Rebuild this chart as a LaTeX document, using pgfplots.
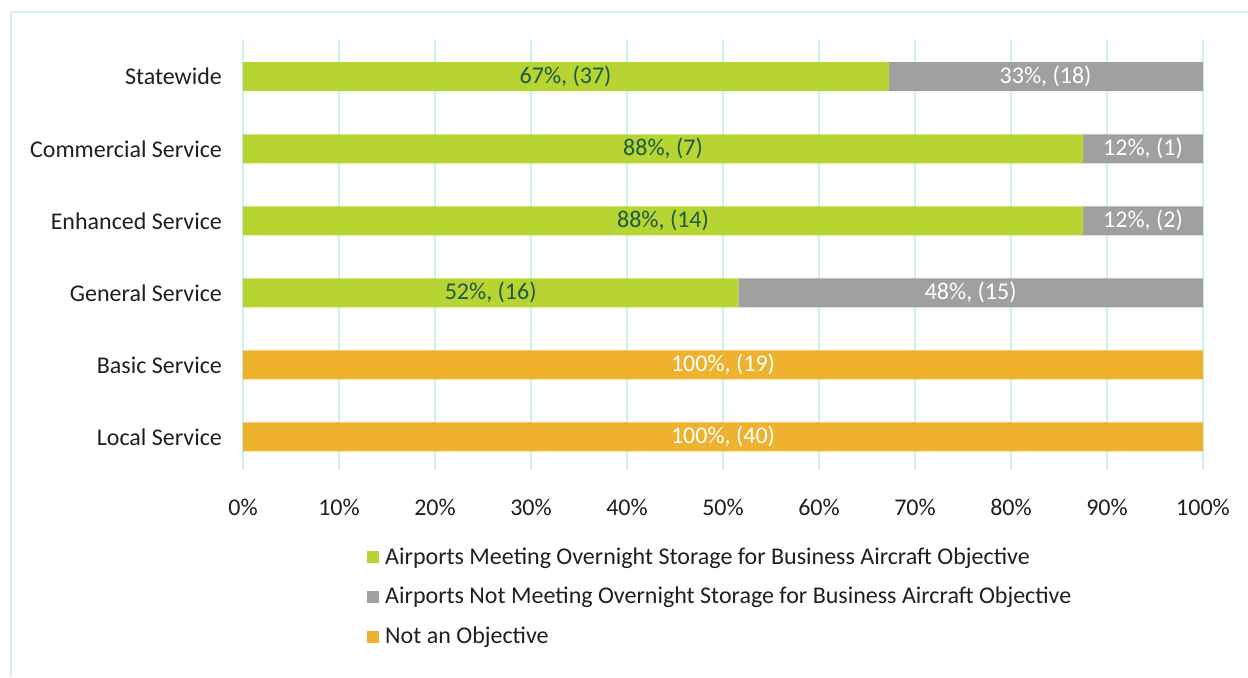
\documentclass[border=0pt]{standalone}
\usepackage{fontspec}
\setmainfont{Carlito}
\usepackage{pgfplots}
\pgfplotsset{compat=1.18}
\usepackage{pgfplotstable}

\definecolor{meet}{HTML}{B8D432}
\definecolor{notmeet}{HTML}{A0A0A0}
\definecolor{notobj}{HTML}{EEB22E}
\definecolor{gridc}{HTML}{CCF2EC}
\definecolor{framec}{HTML}{CFF0EC}
\definecolor{darklab}{HTML}{1D5A45}

% 0 = Local ... 5 = Statewide
\pgfplotstableread{
y meet notmeet notobj
0 0     0     100
1 0     0     100
2 51.61 48.39 0
3 87.5  12.5  0
4 87.5  12.5  0
5 67.27 32.73 0
}\bars

\pgfplotstableread[col sep=semicolon]{
x;y;label
33.6;5;67\%, (37)
43.75;4;88\%, (7)
43.75;3;88\%, (14)
25.8;2;52\%, (16)
}\darklabels

\pgfplotstableread[col sep=semicolon]{
x;y;label
83.6;5;33\%, (18)
93.75;4;12\%, (1)
93.75;3;12\%, (2)
75.8;2;48\%, (15)
50;1;100\%, (19)
50;0;100\%, (40)
}\whitelabels

\begin{document}
\begin{tikzpicture}
\useasboundingbox (0,0) rectangle (624pt,338.5pt);
\draw[framec, line width=1pt] (5.5pt,0pt) -- (5.5pt,332.5pt) -- (624pt,332.5pt);

\begin{axis}[
  at={(121.5pt,103.5pt)}, anchor=south west,
  scale only axis, width=480pt, height=215pt,
  xbar stacked, bar width=14.5pt,
  xmin=0, xmax=100, ymin=-0.46, ymax=5.51,
  axis line style={draw=none}, major tick length=0pt,
  xtick={0,10,...,100},
  xticklabel={\pgfmathprintnumber{\tick}\%},
  ytick={0,...,5},
  yticklabels={Local Service, Basic Service, General Service, Enhanced Service, Commercial Service, Statewide},
  xmajorgrids, grid style={gridc, line width=1pt},
  /pgf/number format/assume math mode=true,
  tick label style={font=\fontsize{12}{14}\selectfont, text=black!88},
  xticklabel style={yshift=-11pt},
  yticklabel style={xshift=-7pt},
  legend image code/.code={\fill[#1] (0pt,-3pt) rectangle (6pt,3pt);},
  legend cell align=left,
  legend style={at={(0.129,-0.17)}, anchor=north west, draw=none, fill=none,
    inner sep=0pt, row sep=6pt, font=\fontsize{12}{14}\selectfont, text=black!88,
    /tikz/every odd column/.append style={column sep=1pt}},
]
\addplot[fill=meet, draw=none] table[x=meet, y=y]{\bars};
\addplot[fill=notmeet, draw=none] table[x=notmeet, y=y]{\bars};
\addplot[fill=notobj, draw=none] table[x=notobj, y=y]{\bars};
\legend{Airports Meeting Overnight Storage for Business Aircraft Objective,
  Airports Not Meeting Overnight Storage for Business Aircraft Objective,
  Not an Objective}
\end{axis}

\begin{axis}[
  at={(121.5pt,103.5pt)}, anchor=south west,
  scale only axis, width=480pt, height=215pt,
  xmin=0, xmax=100, ymin=-0.46, ymax=5.51,
  hide axis,
  nodes near coords, point meta=explicit symbolic,
]
\addplot[draw=none, nodes near coords style={anchor=center, text=darklab, font=\fontsize{12}{14}\selectfont}]
  table[x=x, y=y, meta=label]{\darklabels};
\addplot[draw=none, nodes near coords style={anchor=center, text=white, font=\fontsize{12}{14}\selectfont}]
  table[x=x, y=y, meta=label]{\whitelabels};
\end{axis}
\end{tikzpicture}
\end{document}
